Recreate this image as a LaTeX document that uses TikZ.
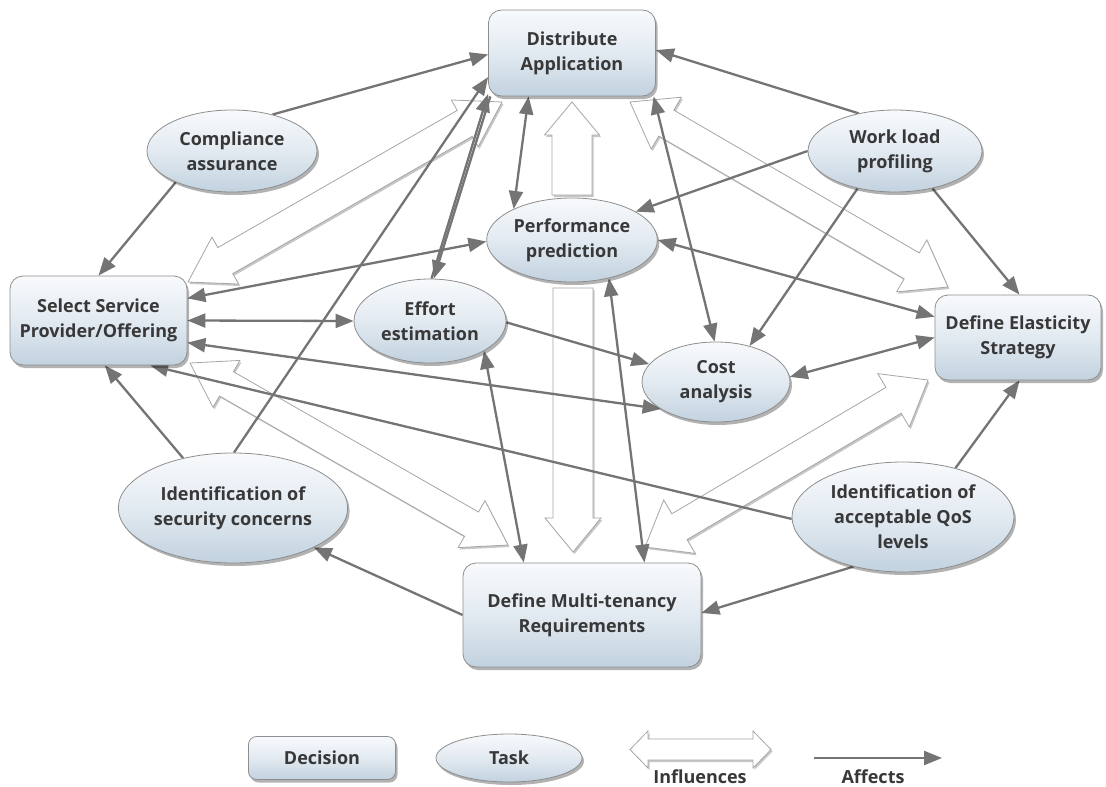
\documentclass[tikz,border=0pt]{standalone}
\usepackage{fontspec}
\setmainfont{Open Sans}
\usetikzlibrary{arrows.meta,calc,shapes.geometric,shadows,backgrounds}
\definecolor{lgray}{HTML}{747474}
\definecolor{bord}{HTML}{8E8E8E}
\definecolor{ntop}{HTML}{F8FAFC}
\definecolor{nmid}{HTML}{E2EAF1}
\definecolor{nbot}{HTML}{C2D2DF}
\definecolor{txt}{HTML}{383838}
\definecolor{hbord}{HTML}{A6A6A6}
\newcommand{\diagfont}{\fontsize{18}{25}\selectfont\bfseries}
% hollow double-headed arrow: from, to, shaft half, head half, head length
\newcommand{\infldouble}[5]{%
  \coordinate (ha) at ($(#1)!#5!(#2)$);
  \coordinate (hb) at ($(#2)!#5!(#1)$);
  \path[infl] (#1) -- ($(ha)!#4!90:(#2)$) -- ($(ha)!#3!90:(#2)$)
    -- ($(hb)!#3!-90:(#1)$) -- ($(hb)!#4!-90:(#1)$) -- (#2)
    -- ($(hb)!#4!90:(#1)$) -- ($(hb)!#3!90:(#1)$)
    -- ($(ha)!#3!-90:(#2)$) -- ($(ha)!#4!-90:(#2)$) -- cycle;}
% hollow single-headed arrow: base, tip, shaft half, head half, head length
\newcommand{\inflsingle}[5]{%
  \coordinate (hb) at ($(#2)!#5!(#1)$);
  \path[infl] ($(#1)!#3!90:(#2)$) -- ($(hb)!#3!-90:(#1)$) -- ($(hb)!#4!-90:(#1)$)
    -- (#2) -- ($(hb)!#4!90:(#1)$) -- ($(hb)!#3!90:(#1)$)
    -- ($(#1)!#3!-90:(#2)$) -- cycle;}
\tikzset{
  nodebase/.style={draw=bord, line width=0.8pt, top color=ntop, bottom color=nbot,
    middle color=nmid, drop shadow={shadow xshift=2pt, shadow yshift=-3pt, opacity=0.3, fill=black},
    inner sep=2pt, align=center, text=txt, font=\diagfont},
  dec/.style={nodebase, rectangle, rounded corners=13pt},
  task/.style={nodebase, ellipse},
  lbl/.style={text=txt, font=\diagfont, inner sep=0pt},
  aff/.style={draw=lgray, line width=2.3pt, -{Triangle[length=18pt,width=14pt]}},
  aff2/.style={draw=lgray, line width=2.3pt, {Triangle[length=18pt,width=14pt]}-{Triangle[length=18pt,width=14pt]}},
  infl/.style={draw=hbord, line width=0.8pt, fill=white, line join=miter,
    drop shadow={shadow xshift=1.5pt, shadow yshift=-2pt, opacity=0.22, fill=black}}
}
\begin{document}
\begin{tikzpicture}[x=1pt, y=-1pt]
\useasboundingbox (0,0) rectangle (1106,787);
% decisions
\node[dec, minimum width=167pt, minimum height=86pt] (da) at (572,53) {Distribute\\Application};
\node[dec, minimum width=177pt, minimum height=89pt] (ss) at (98.5,320.5) {Select Service\\Provider/Offering};
\node[dec, minimum width=166pt, minimum height=85pt] (de) at (1018,337.5) {Define Elasticity\\Strategy};
\node[dec, minimum width=238pt, minimum height=104pt] (dm) at (582,615) {Define Multi-tenancy\\Requirements};
% tasks
\node[task, minimum width=170pt, minimum height=82pt] (ca) at (232,151) {Compliance\\assurance};
\node[task, minimum width=174pt, minimum height=82pt] (wl) at (895,151) {Work load\\profiling};
\node[task, minimum width=170pt, minimum height=84pt] (pp) at (572,240) {Performance\\prediction};
\node[task, minimum width=152pt, minimum height=84pt] (ee) at (430,321) {Effort\\estimation};
\node[task, minimum width=148pt, minimum height=80pt] (co) at (716,382) {Cost\\analysis};
\node[task, minimum width=224pt, minimum height=110pt] (is) at (233,508) {Identification of\\security concerns};
\node[task, minimum width=222pt, minimum height=110pt] (iq) at (903,517) {Identification of\\acceptable QoS\\levels};
% legend
\node[dec, rounded corners=8pt, minimum width=147pt, minimum height=43pt] (ldec) at (322,758) {Decision};
\node[task, minimum width=146pt, minimum height=48pt] (ltask) at (509,758) {Task};
\node[lbl] (linf) at (700,777) {Influences};
\node[lbl] (laff) at (873,777) {Affects};
% influence arrow end points
\coordinate (h1a) at (188,282);
\coordinate (h1b) at (502,102);
\coordinate (h2a) at (630,102);
\coordinate (h2b) at (948,287);
\coordinate (h3a) at (190,363);
\coordinate (h3b) at (508,545);
\coordinate (h4a) at (645,547);
\coordinate (h4b) at (928,380);
\coordinate (h5a) at (572,195);
\coordinate (h5b) at (572,102);
\coordinate (h6a) at (573,288);
\coordinate (h6b) at (573,552);
\coordinate (h7a) at (630,749.5);
\coordinate (h7b) at (771,749.5);
\coordinate (af1) at (814,758);
\coordinate (af2) at (942,758);
\begin{scope}[on background layer]
\fill[white] (0,0) rectangle (1106,787);
% influences
\infldouble{h1a}{h1b}{15pt}{27pt}{43pt}
\infldouble{h2a}{h2b}{15pt}{30pt}{42pt}
\infldouble{h3a}{h3b}{14pt}{27pt}{42pt}
\infldouble{h4a}{h4b}{15pt}{31pt}{40pt}
\inflsingle{h5a}{h5b}{20pt}{27.5pt}{33pt}
\inflsingle{h6a}{h6b}{20pt}{28pt}{34pt}
\infldouble{h7a}{h7b}{10.5pt}{18.5pt}{18pt}
% affects
\draw[aff] (ca.42.8) -- (da.181.4);
\draw[aff] (ca.209) -- (ss.north);
\draw[aff] (wl.134) -- (da.2);
\draw[aff] (wl.west) -- (pp.24.7);
\draw[aff] (wl.225.7) -- (co.47.4);
\draw[aff] (wl.315.7) -- (de.88);
\draw[aff2] (pp.east) -- (de.166);
\draw[aff2] (co.4) -- (de.west);
\draw[aff2] (da.-28) -- (co.92);
\draw[aff2] (da.225) -- (pp.152);
\draw[aff2] (ss.14.6) -- (pp.181);
\draw[aff2] (ss.east) -- (ee.west);
\draw[aff] (ee.88) -- (da.206);
\draw[aff] (da.208) -- (ee.85);
\draw[aff] (ee.-1) -- (co.165.6);
\draw[aff2] (ss.-14) -- (co.206.2);
\draw[aff] (iq.181) -- (ss.-41.4);
\draw[aff] (is.135.6) -- (ss.-82);
\draw[aff] (is.89) -- (da.196.6);
\draw[aff] (dm.west) -- (is.-26.3);
\draw[aff] (iq.225.6) -- (dm.1);
\draw[aff] (iq.43.9) -- (de.-88);
\draw[aff2] (ee.-29.3) -- (dm.138.6);
\draw[aff2] (pp.-46.5) -- (dm.40.9);
\draw[aff] (af1) -- (af2);
\end{scope}
\end{tikzpicture}
\end{document}
